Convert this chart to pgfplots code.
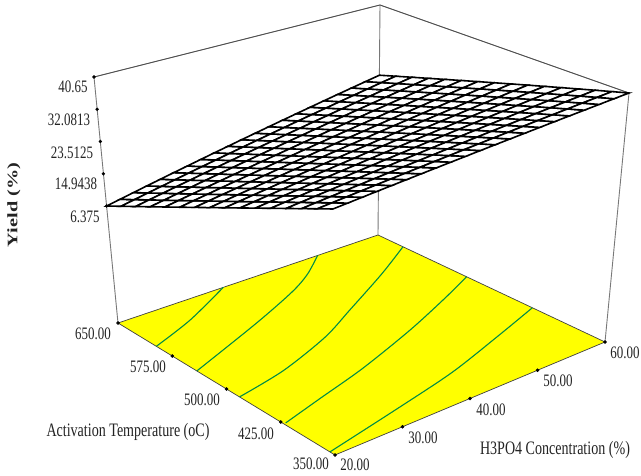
\documentclass[border=0pt]{standalone}
\usepackage{fontspec}
\setmainfont[FakeStretch=0.74]{Liberation Serif}
\newfontfamily\ylab[FakeStretch=1.4]{Liberation Serif}
\usepackage{pgfplots}
\pgfplotsset{compat=1.18}
% normalised box coordinates from conc, temp, yield
\def\U{((\thisrow{c}-20)/40)}
\def\T{((650-\thisrow{t})/300)}
\def\W{((\thisrow{z}+24.7)/65.35)}
% trilinear projection of the perspective box to the page
\def\PX{((1-\W)*(118+260*\U+217*\T+10*\U*\T)+\W*(94+286*\U+238.8*\T+10.2*\U*\T))}
\def\PY{(475-((1-\W)*(323-88*\U+132*\T-25*\U*\T)+\W*(77-72*\U+108.7*\T-20.7*\U*\T)))}
\pgfplotsset{table/proj/.style={x expr=\PX,y expr=\PY,row sep=\\}}
\definecolor{cont}{RGB}{0,140,70}
\definecolor{txt}{RGB}{35,35,35}
\definecolor{edge}{RGB}{120,120,120}
\definecolor{yel}{RGB}{255,255,0}
\newcommand\lab[3]{\node[text=txt,font=\fontsize{17.5}{17.5}\selectfont,inner sep=0pt] at (axis cs:#1,#2) {#3};}
\newcommand\ttl[3]{\node[text=txt,font=\fontsize{19}{19}\selectfont,inner sep=0pt] at (axis cs:#1,#2) {#3};}
\begin{document}
\begin{tikzpicture}
\begin{axis}[
  scale only axis, width=641pt, height=475pt,
  xmin=0, xmax=641, ymin=0, ymax=475,
  hide axis, clip=false,
  colormap={allwhite}{color=(white) color=(white)},
]
\path[use as bounding box] (rel axis cs:0,0) rectangle (rel axis cs:1,1);
% back edges of the box
\addplot[edge,line width=0.9pt,forget plot] table[proj] {c t z\\20 650 -24.7\\20 650 40.65\\60 650 40.65\\60 350 40.65\\60 350 -24.7\\};
\addplot[edge,line width=0.9pt,forget plot] table[proj] {c t z\\60 650 -24.7\\60 650 40.65\\};
\addplot[black!70,line width=0.7pt,forget plot] table[proj] {c t z\\20 650 40.65\\60 650 40.65\\60 350 40.65\\};
% floor
\addplot[fill=yel,draw=black!75,line width=0.7pt,forget plot] table[proj] {c t z\\20 650 -24.7\\60 650 -24.7\\60 350 -24.7\\20 350 -24.7\\20 650 -24.7\\};
% contours on the floor
\addplot[cont,line width=1.1pt,smooth,forget plot] table[proj] {c t z\\20 597 -24.7\\27.5 618 -24.7\\36.2 650 -24.7\\};
\addplot[cont,line width=1.1pt,smooth,forget plot] table[proj] {c t z\\20 541 -24.7\\33.3 579 -24.7\\41.9 607 -24.7\\46.4 626 -24.7\\50.7 650 -24.7\\};
\addplot[cont,line width=1.1pt,smooth,forget plot] table[proj] {c t z\\20 482 -24.7\\28.1 495.5 -24.7\\37.2 521 -24.7\\44 548 -24.7\\53.1 585.5 -24.7\\60 617 -24.7\\};
\addplot[cont,line width=1.1pt,smooth,forget plot] table[proj] {c t z\\20.3 421 -24.7\\27.1 436 -24.7\\35.6 455 -24.7\\45.9 484 -24.7\\54.3 512 -24.7\\60 533 -24.7\\};
\addplot[cont,line width=1.1pt,smooth,forget plot] table[proj] {c t z\\20 357 -24.7\\32.8 379 -24.7\\42.7 398 -24.7\\52.4 424 -24.7\\60 446 -24.7\\};
% response surface
\addplot[surf,mesh/rows=16,mesh/cols=21,shader=faceted,faceted color=black,line width=1.6pt,point meta=0,forget plot] table[proj] {c t z\\
20 650 6.38\\22 650 7.09\\24 650 7.81\\26 650 8.52\\28 650 9.24\\30 650 9.96\\32 650 10.67\\34 650 11.39\\36 650 12.11\\38 650 12.82\\40 650 13.54\\42 650 14.25\\44 650 14.97\\46 650 15.69\\48 650 16.40\\50 650 17.12\\52 650 17.84\\54 650 18.55\\56 650 19.27\\58 650 19.98\\60 650 20.70\\
20 630 8.43\\22 630 9.12\\24 630 9.81\\26 630 10.49\\28 630 11.18\\30 630 11.87\\32 630 12.56\\34 630 13.24\\36 630 13.93\\38 630 14.62\\40 630 15.31\\42 630 15.99\\44 630 16.68\\46 630 17.37\\48 630 18.05\\50 630 18.74\\52 630 19.43\\54 630 20.12\\56 630 20.80\\58 630 21.49\\60 630 22.18\\
20 610 10.47\\22 610 11.13\\24 610 11.79\\26 610 12.44\\28 610 13.10\\30 610 13.76\\32 610 14.42\\34 610 15.08\\36 610 15.74\\38 610 16.40\\40 610 17.05\\42 610 17.71\\44 610 18.37\\46 610 19.03\\48 610 19.69\\50 610 20.35\\52 610 21.00\\54 610 21.66\\56 610 22.32\\58 610 22.98\\60 610 23.64\\
20 590 12.48\\22 590 13.11\\24 590 13.74\\26 590 14.37\\28 590 15.00\\30 590 15.63\\32 590 16.26\\34 590 16.89\\36 590 17.52\\38 590 18.15\\40 590 18.78\\42 590 19.41\\44 590 20.04\\46 590 20.67\\48 590 21.30\\50 590 21.93\\52 590 22.56\\54 590 23.19\\56 590 23.82\\58 590 24.44\\60 590 25.07\\
20 570 14.48\\22 570 15.08\\24 570 15.68\\26 570 16.28\\28 570 16.88\\30 570 17.48\\32 570 18.08\\34 570 18.68\\36 570 19.28\\38 570 19.88\\40 570 20.48\\42 570 21.08\\44 570 21.68\\46 570 22.28\\48 570 22.89\\50 570 23.49\\52 570 24.09\\54 570 24.69\\56 570 25.29\\58 570 25.89\\60 570 26.49\\
20 550 16.45\\22 550 17.02\\24 550 17.59\\26 550 18.17\\28 550 18.74\\30 550 19.31\\32 550 19.88\\34 550 20.45\\36 550 21.02\\38 550 21.60\\40 550 22.17\\42 550 22.74\\44 550 23.31\\46 550 23.88\\48 550 24.45\\50 550 25.03\\52 550 25.60\\54 550 26.17\\56 550 26.74\\58 550 27.31\\60 550 27.88\\
20 530 18.40\\22 530 18.94\\24 530 19.49\\26 530 20.03\\28 530 20.57\\30 530 21.11\\32 530 21.66\\34 530 22.20\\36 530 22.74\\38 530 23.29\\40 530 23.83\\42 530 24.37\\44 530 24.91\\46 530 25.46\\48 530 26.00\\50 530 26.54\\52 530 27.09\\54 530 27.63\\56 530 28.17\\58 530 28.71\\60 530 29.26\\
20 510 20.33\\22 510 20.84\\24 510 21.36\\26 510 21.87\\28 510 22.39\\30 510 22.90\\32 510 23.41\\34 510 23.93\\36 510 24.44\\38 510 24.95\\40 510 25.47\\42 510 25.98\\44 510 26.50\\46 510 27.01\\48 510 27.52\\50 510 28.04\\52 510 28.55\\54 510 29.06\\56 510 29.58\\58 510 30.09\\60 510 30.61\\
20 490 22.24\\22 490 22.72\\24 490 23.21\\26 490 23.69\\28 490 24.18\\30 490 24.66\\32 490 25.15\\34 490 25.63\\36 490 26.12\\38 490 26.60\\40 490 27.09\\42 490 27.57\\44 490 28.06\\46 490 28.54\\48 490 29.03\\50 490 29.51\\52 490 30.00\\54 490 30.48\\56 490 30.97\\58 490 31.45\\60 490 31.94\\
20 470 24.13\\22 470 24.58\\24 470 25.04\\26 470 25.49\\28 470 25.95\\30 470 26.41\\32 470 26.86\\34 470 27.32\\36 470 27.77\\38 470 28.23\\40 470 28.69\\42 470 29.14\\44 470 29.60\\46 470 30.05\\48 470 30.51\\50 470 30.97\\52 470 31.42\\54 470 31.88\\56 470 32.33\\58 470 32.79\\60 470 33.25\\
20 450 25.99\\22 450 26.42\\24 450 26.85\\26 450 27.27\\28 450 27.70\\30 450 28.13\\32 450 28.55\\34 450 28.98\\36 450 29.41\\38 450 29.83\\40 450 30.26\\42 450 30.69\\44 450 31.12\\46 450 31.54\\48 450 31.97\\50 450 32.40\\52 450 32.82\\54 450 33.25\\56 450 33.68\\58 450 34.11\\60 450 34.53\\
20 430 27.84\\22 430 28.23\\24 430 28.63\\26 430 29.03\\28 430 29.43\\30 430 29.83\\32 430 30.23\\34 430 30.62\\36 430 31.02\\38 430 31.42\\40 430 31.82\\42 430 32.22\\44 430 32.61\\46 430 33.01\\48 430 33.41\\50 430 33.81\\52 430 34.21\\54 430 34.60\\56 430 35.00\\58 430 35.40\\60 430 35.80\\
20 410 29.66\\22 410 30.03\\24 410 30.40\\26 410 30.77\\28 410 31.14\\30 410 31.51\\32 410 31.87\\34 410 32.24\\36 410 32.61\\38 410 32.98\\40 410 33.35\\42 410 33.72\\44 410 34.09\\46 410 34.46\\48 410 34.83\\50 410 35.20\\52 410 35.57\\54 410 35.94\\56 410 36.31\\58 410 36.67\\60 410 37.04\\
20 390 31.46\\22 390 31.80\\24 390 32.14\\26 390 32.48\\28 390 32.82\\30 390 33.16\\32 390 33.50\\34 390 33.84\\36 390 34.18\\38 390 34.52\\40 390 34.86\\42 390 35.20\\44 390 35.54\\46 390 35.88\\48 390 36.22\\50 390 36.56\\52 390 36.91\\54 390 37.25\\56 390 37.59\\58 390 37.93\\60 390 38.27\\
20 370 33.24\\22 370 33.55\\24 370 33.86\\26 370 34.18\\28 370 34.49\\30 370 34.80\\32 370 35.11\\34 370 35.42\\36 370 35.73\\38 370 36.04\\40 370 36.35\\42 370 36.67\\44 370 36.98\\46 370 37.29\\48 370 37.60\\50 370 37.91\\52 370 38.22\\54 370 38.53\\56 370 38.85\\58 370 39.16\\60 370 39.47\\
20 350 35.00\\22 350 35.28\\24 350 35.57\\26 350 35.85\\28 350 36.13\\30 350 36.41\\32 350 36.70\\34 350 36.98\\36 350 37.26\\38 350 37.54\\40 350 37.83\\42 350 38.11\\44 350 38.39\\46 350 38.67\\48 350 38.96\\50 350 39.24\\52 350 39.52\\54 350 39.80\\56 350 40.09\\58 350 40.37\\60 350 40.65\\
};
% tick dots
\addplot[only marks,mark=*,mark size=1.5pt,black,forget plot] table[proj] {c t z\\
20 650 6.375\\20 650 14.9438\\20 650 23.5125\\20 650 32.0813\\20 650 40.65\\
20 650 -24.7\\20 575 -24.7\\20 500 -24.7\\20 425 -24.7\\20 350 -24.7\\
30 350 -24.7\\40 350 -24.7\\50 350 -24.7\\60 350 -24.7\\};
% labels
\lab{73}{388}{40.65}
\lab{69}{355}{32.0813}
\lab{72}{322}{23.5125}
\lab{76}{291}{14.9438}
\lab{85}{258}{6.375}
\lab{93}{141}{650.00}
\lab{148}{108}{575.00}
\lab{202}{75}{500.00}
\lab{256}{41}{425.00}
\lab{311}{11}{350.00}
\lab{355}{10}{20.00}
\lab{423}{37}{30.00}
\lab{491}{65}{40.00}
\lab{558}{94}{50.00}
\lab{625}{122}{60.00}
\ttl{128}{43}{Activation Temperature (oC)}
\ttl{555}{25}{H3PO4 Concentration (\%)}
\node[text=txt,rotate=90,inner sep=0pt,font=\ylab\bfseries\fontsize{14.5}{14.5}\selectfont] at (axis cs:14,270) {Yield (\%)};
\end{axis}
\end{tikzpicture}
\end{document}
